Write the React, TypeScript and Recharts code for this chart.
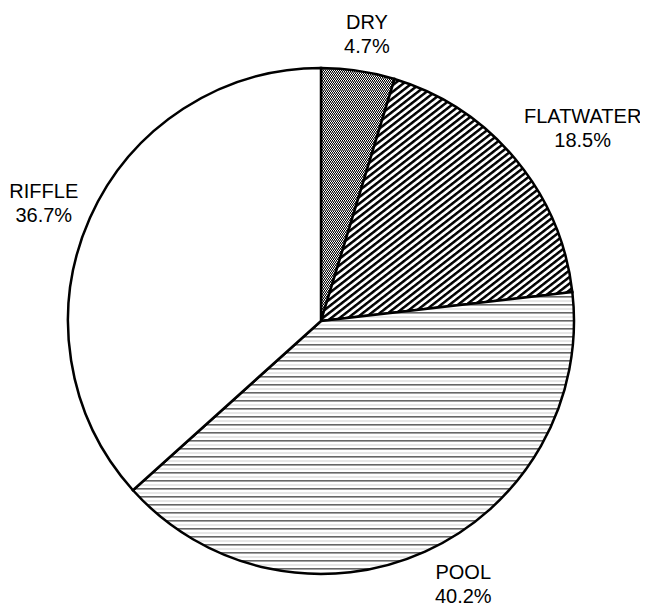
import { PieChart, Pie, Cell } from 'recharts';

// habitat share, clockwise from 12 o'clock
const habitats = ['DRY', 'FLATWATER', 'POOL', 'RIFFLE'];
const shares = [4.7, 18.5, 40.2, 36.7];
const fills = ['url(#dryFill)', 'url(#flatFill)', 'url(#poolFill)', '#ffffff'];

const data = habitats.map((name, i) => ({ name, value: shares[i] }));

const RADIAN = Math.PI / 180;
const FAMILY = "'Liberation Sans', Arial, sans-serif";
const SIZE = 20;
const LINE = 24;

// small hand tweaks so labels sit where the original put them
const labelShift: Record<string, [number, number]> = {
  DRY: [3, 0],
  FLATWATER: [10, -7],
  POOL: [20, -1],
};

let ctx: CanvasRenderingContext2D | null = null;
function textWidth(s: string) {
  if (!ctx) ctx = document.createElement('canvas').getContext('2d');
  if (!ctx) return s.length * 11;
  ctx.font = `${SIZE}px ${FAMILY}`;
  return ctx.measureText(s).width;
}

function renderLabel(props: any) {
  const { cx, cy, midAngle, outerRadius, name, value } = props;
  const pct = `${Number(value).toFixed(1)}%`;
  const w = Math.max(textWidth(name), textWidth(pct));
  const h = 42;
  const cos = Math.cos(-midAngle * RADIAN);
  const sin = Math.sin(-midAngle * RADIAN);
  // anchor just outside the rim, box pushed outward by its half size
  const r = outerRadius + 16;
  const [sx, sy] = labelShift[name] || [0, 0];
  const bx = cx + r * cos + (cos * w) / 2 + sx;
  const by = cy + r * sin + (sin * h) / 2 + sy;
  return (
    <text
      x={bx}
      y={by}
      textAnchor="middle"
      fill="#000"
      fontSize={SIZE}
      fontFamily={FAMILY}
    >
      <tspan x={bx} y={by - LINE / 2 + 7}>{name}</tspan>
      <tspan x={bx} y={by + LINE / 2 + 7}>{pct}</tspan>
    </text>
  );
}

function Patterns() {
  return (
    <svg width={0} height={0} style={{ position: 'absolute' }}>
      <defs>
        <pattern id="dryFill" patternUnits="userSpaceOnUse" width={2} height={3}>
          <rect x={0} y={0} width={2} height={3} fill="#707070" />
          <rect x={0} y={0} width={1} height={1} fill="#000" />
          <rect x={1} y={0} width={1} height={1} fill="#fff" />
          <rect x={1} y={2} width={1} height={1} fill="#000" />
          <rect x={0} y={2} width={1} height={1} fill="#fff" />
        </pattern>
        <pattern
          id="flatFill"
          patternUnits="userSpaceOnUse"
          width={10}
          height={5.2}
          patternTransform="rotate(-38)"
        >
          <rect x={0} y={0} width={10} height={5.2} fill="#fff" />
          <rect x={0} y={0} width={10} height={2.5} fill="#000" />
        </pattern>
        <pattern id="poolFill" patternUnits="userSpaceOnUse" width={10} height={8}>
          <rect x={0} y={0} width={10} height={8} fill="#fff" />
          <rect x={0} y={0} width={10} height={1.6} fill="#666" />
          <rect x={0} y={4.5} width={10} height={1} fill="#cfcfcf" />
        </pattern>
      </defs>
    </svg>
  );
}

export default function App() {
  return (
    <div style={{ position: 'relative', width: 640, height: 597 }}>
      <Patterns />
      <PieChart
        width={640}
        height={597}
        margin={{ top: 0, right: 0, bottom: 0, left: 0 }}
        style={{ overflow: 'visible' }}
      >
        <Pie
          data={data}
          dataKey="value"
          nameKey="name"
          cx={313}
          cy={313}
          outerRadius={253}
          startAngle={90}
          endAngle={-270}
          stroke="#000"
          strokeWidth={2.5}
          label={renderLabel}
          labelLine={false}
          isAnimationActive={false}
        >
          {data.map((d, i) => (
            <Cell key={d.name} fill={fills[i]} />
          ))}
        </Pie>
      </PieChart>
    </div>
  );
}
